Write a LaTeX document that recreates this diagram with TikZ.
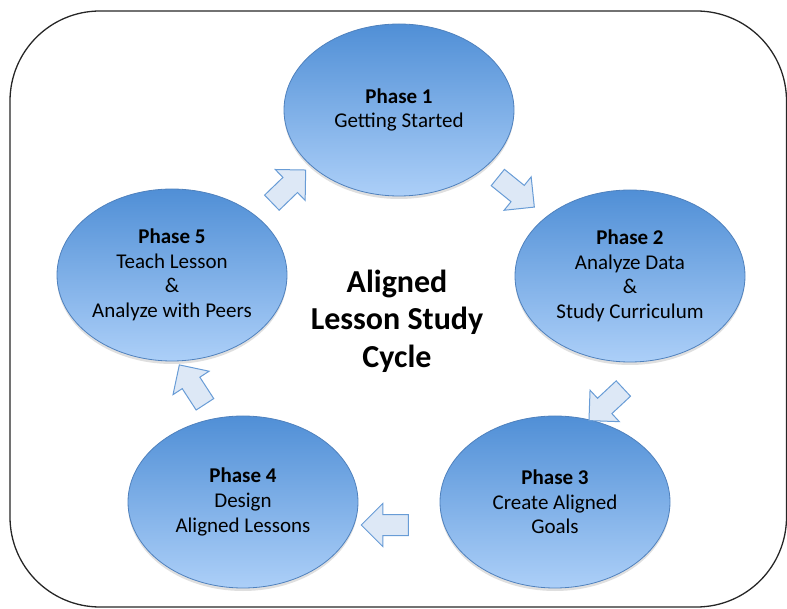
\documentclass[tikz,border=0pt]{standalone}
\usepackage{fontspec}
\setmainfont{Carlito}
\usetikzlibrary{shapes.geometric,shapes.arrows,shadows}
\definecolor{phasetop}{RGB}{80,143,214}
\definecolor{phasebot}{RGB}{172,207,248}
\definecolor{phaseline}{RGB}{79,129,189}
\definecolor{arrowfill}{RGB}{221,232,246}
\definecolor{arrowline}{RGB}{104,156,214}
\tikzset{
  phase/.style      = {ellipse, draw=phaseline, line width=0.8pt,
                       top color=phasetop, bottom color=phasebot,
                       minimum width=230pt, minimum height=172pt, inner sep=0pt,
                       align=center, font=\fontsize{21}{24.6}\selectfont,
                       drop shadow={shadow xshift=0pt, shadow yshift=-3pt,
                                    opacity=0.18, fill=black!70}},
  cyclearrow/.style = {single arrow, draw=arrowline, fill=arrowfill,
                       line width=1pt, inner xsep=0pt, inner ysep=10pt,
                       minimum height=47pt, single arrow head extend=11pt},
  centretitle/.style= {align=center, font=\fontsize{32}{37.5}\selectfont\bfseries},
  frame/.style      = {draw=black!85, line width=1.3pt, rounded corners=90pt},
}

\begin{document}
\begin{tikzpicture}[x=1pt,y=1pt]
\useasboundingbox (0,0) rectangle (787,608);
\draw[frame] (10,597) rectangle (786.5,1);
% the five phases
\node[phase] (p1) at (399,498) {\textbf{Phase 1}\\Getting Started};
\node[phase] (p2) at (630,332) {\textbf{Phase 2}\\Analyze Data\\\&\\Study Curriculum};
\node[phase] (p3) at (555,106) {\textbf{Phase 3}\\Create Aligned\\Goals};
\node[phase] (p4) at (243,106) {\textbf{Phase 4}\\Design\\Aligned Lessons};
\node[phase] (p5) at (172,333) {\textbf{Phase 5}\\Teach Lesson\\\&\\Analyze with Peers};
\node[centretitle] (cycle) at (397,287) {Aligned\\Lesson Study\\Cycle};
% block arrows between phases
\node[cyclearrow, rotate=-39]  (a12) at (512,419) {};
\node[cyclearrow, rotate=-137] (a23) at (610,207) {};
\node[cyclearrow, rotate=180]  (a34) at (390,83)  {};
\node[cyclearrow, rotate=123]  (a45) at (195,219) {};
\node[cyclearrow, rotate=44]   (a51) at (285,418) {};
\end{tikzpicture}
\end{document}
